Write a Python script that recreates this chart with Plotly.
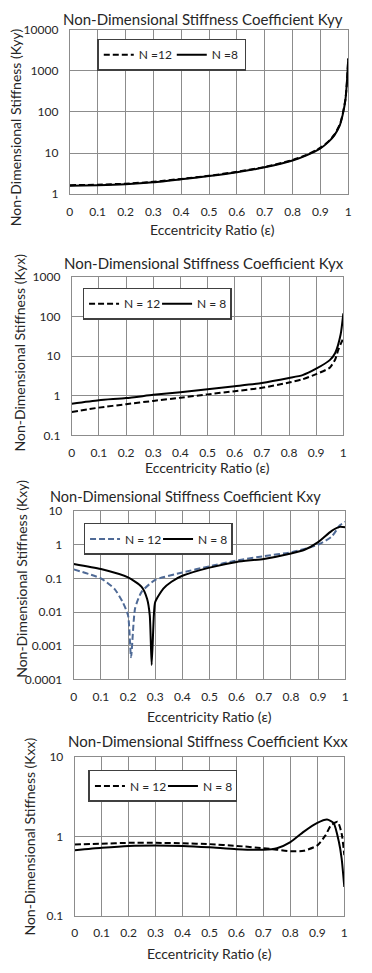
import plotly.graph_objects as go

# ---------------- data ----------------
x_ticks = [0, 0.1, 0.2, 0.3, 0.4, 0.5, 0.6, 0.7, 0.8, 0.9, 1.0]
x_ticktext = ["0", "0.1", "0.2", "0.3", "0.4", "0.5", "0.6", "0.7", "0.8", "0.9", "1"]

# Kyy
kyy_eps = [0, 0.1, 0.2, 0.3, 0.4, 0.5, 0.6, 0.7, 0.8, 0.85, 0.9, 0.93, 0.95, 0.97, 0.98, 0.99, 0.995, 1.0]
kyy_n8 = [1.6, 1.65, 1.75, 1.95, 2.3, 2.75, 3.4, 4.5, 6.6, 8.8, 13, 19, 27, 48, 85, 200, 500, 2000]
kyy_n12 = [1.65, 1.7, 1.8, 2.0, 2.35, 2.8, 3.5, 4.6, 6.8, 9.0, 13.5, 19.5, 28, 50, 88, 205, 500, 2000]
kyy_ticks = [1, 10, 100, 1000, 10000]
kyy_ticktext = ["1", "10", "100", "1000", "10000"]

# Kyx
kyx_eps_n8 = [0, 0.1, 0.2, 0.3, 0.4, 0.5, 0.6, 0.7, 0.8, 0.85, 0.9, 0.95, 0.97, 0.99, 1.0]
kyx_n8 = [0.63, 0.77, 0.87, 1.05, 1.23, 1.46, 1.74, 2.1, 2.8, 3.3, 4.8, 7.9, 12, 35, 120]
kyx_eps_n12 = [0, 0.1, 0.2, 0.3, 0.4, 0.5, 0.6, 0.7, 0.8, 0.85, 0.9, 0.95, 0.97, 0.98, 0.99, 1.0]
kyx_n12 = [0.39, 0.5, 0.61, 0.74, 0.89, 1.08, 1.3, 1.58, 2.15, 2.6, 3.5, 5.1, 8.2, 13.5, 20, 28]
kyx_ticks = [0.1, 1, 10, 100, 1000]
kyx_ticktext = ["0.1", "1", "10", "100", "1000"]

# Kxy
kxy_eps_n8 = [0, 0.1, 0.2, 0.25, 0.27, 0.28, 0.287, 0.295, 0.3, 0.33, 0.36, 0.4, 0.5, 0.6, 0.7, 0.8, 0.85, 0.9, 0.95, 0.98, 1.0]
kxy_n8 = [0.27, 0.19, 0.107, 0.056, 0.025, 0.008, 0.00027, 0.008, 0.02, 0.05, 0.08, 0.12, 0.21, 0.31, 0.38, 0.55, 0.71, 1.2, 2.6, 3.4, 3.3]
kxy_eps_n12 = [0, 0.1, 0.15, 0.18, 0.2, 0.211, 0.226, 0.25, 0.3, 0.4, 0.5, 0.6, 0.7, 0.8, 0.9, 0.95, 0.98, 1.0]
kxy_n12 = [0.186, 0.1, 0.049, 0.02, 0.008, 0.00046, 0.013, 0.04, 0.09, 0.15, 0.23, 0.34, 0.46, 0.6, 1.0, 1.75, 3.8, 4.8]
kxy_ticks = [0.0001, 0.001, 0.01, 0.1, 1, 10]
kxy_ticktext = ["0.0001", "0.001", "0.01", "0.1", "1", "10"]

# Kxx
kxx_eps_n8 = [0, 0.1, 0.2, 0.3, 0.4, 0.5, 0.6, 0.7, 0.75, 0.8, 0.85, 0.9, 0.936, 0.96, 0.98, 0.99, 1.0]
kxx_n8 = [0.67, 0.72, 0.76, 0.77, 0.76, 0.73, 0.69, 0.68, 0.71, 0.85, 1.15, 1.48, 1.63, 1.48, 0.85, 0.53, 0.23]
kxx_eps_n12 = [0, 0.1, 0.2, 0.3, 0.4, 0.5, 0.6, 0.7, 0.75, 0.8, 0.85, 0.9, 0.93, 0.95, 0.975, 0.99, 1.0]
kxx_n12 = [0.79, 0.81, 0.83, 0.83, 0.82, 0.8, 0.76, 0.71, 0.68, 0.65, 0.66, 0.77, 1.03, 1.37, 1.53, 1.09, 0.58]
kxx_ticks = [0.1, 1, 10]
kxx_ticktext = ["0.1", "1", "10"]

titles = [
    "Non-Dimensional Stiffness Coefficient Kyy",
    "Non-Dimensional Stiffness Coefficient Kyx",
    "Non-Dimensional Stiffness Coefficient Kxy",
    "Non-Dimensional Stiffness Coefficient Kxx",
]
ytitles = [
    "Non-Dimensional Stiffness (Kyy)",
    "Non-Dimensional Stiffness (Kyx)",
    "Non-Dimensional Stiffness (Kxy)",
    "Non-Dimensional Stiffness (Kxx)",
]
xtitle = "Eccentricity Ratio (ε)"
legend_names = [("N =12", "N =8"), ("N = 12", "N = 8"), ("N = 12", "N = 8"), ("N = 12", "N = 8")]

# ---------------- layout geometry ----------------
# Page has a default 8px body margin; the figure is sized to fit inside it,
# and reference-pixel positions are converted by subtracting that offset.
PAGE_W, PAGE_H, OFF = 372, 973, 8
W, H = PAGE_W - 2 * OFF, PAGE_H - 2 * OFF
FONT = "Lato"
TXT = "#262626"
GRID = "#8c8c8c"


def px(xp):
    return (xp - OFF) / W


def py(yp):
    return 1 - (yp - OFF) / H


# plot area boxes in page pixels: left, right, top, bottom
boxes = [(68, 352, 22, 189), (70, 347, 273, 434), (72, 349, 511, 682), (73, 348, 761, 922)]
title_pos = [(204, 11), (205, 259), (186, 496), (209, 745)]
title_size = [15, 15, 14.5, 15]
ytitle_pos = [(12, 121), (17, 350), (18, 580), (27, 842)]
xtitle_pos = [(214, 225), (208, 467), (210, 720), (210, 960)]
legend_pos = [(96, 31), (81, 284), (82, 523), (87, 774)]

series = [
    (kyy_eps, kyy_n12, kyy_eps, kyy_n8, kyy_ticks, kyy_ticktext, [0, 4], "black"),
    (kyx_eps_n12, kyx_n12, kyx_eps_n8, kyx_n8, kyx_ticks, kyx_ticktext, [-1, 3], "black"),
    (kxy_eps_n12, kxy_n12, kxy_eps_n8, kxy_n8, kxy_ticks, kxy_ticktext, [-4, 1], "#4f6a96"),
    (kxx_eps_n12, kxx_n12, kxx_eps_n8, kxx_n8, kxx_ticks, kxx_ticktext, [-1, 1], "black"),
]

fig = go.Figure()
annotations = []
layout = {}

for i, (e12, v12, e8, v8, yt, ytt, yr, c12) in enumerate(series):
    k = "" if i == 0 else str(i + 1)
    lg = "legend" if i == 0 else f"legend{i + 1}"
    n12, n8 = legend_names[i]
    fig.add_trace(go.Scatter(
        x=e12, y=v12, mode="lines", name=n12, xaxis="x" + k, yaxis="y" + k, legend=lg,
        line=dict(color=c12, width=2, dash="6px,3px", shape="spline", smoothing=0.6),
    ))
    fig.add_trace(go.Scatter(
        x=e8, y=v8, mode="lines", name=n8, xaxis="x" + k, yaxis="y" + k, legend=lg,
        line=dict(color="black", width=2, shape="spline", smoothing=0.6),
    ))
    l, r, t, b = boxes[i]
    layout["xaxis" + k] = dict(
        domain=[px(l), px(r)], anchor="y" + k, range=[0, 1],
        tickvals=x_ticks, ticktext=x_ticktext, showgrid=True, gridcolor=GRID, gridwidth=1,
        showline=True, linecolor=GRID, linewidth=1, mirror=True, zeroline=False,
        ticks="", tickfont=dict(family=FONT, size=12, color=TXT), ticklabelstandoff=6,
    )
    layout["yaxis" + k] = dict(
        domain=[py(b), py(t)], anchor="x" + k, type="log", range=yr,
        tickvals=yt, ticktext=ytt, showgrid=True, gridcolor=GRID, gridwidth=1,
        showline=True, linecolor=GRID, linewidth=1, mirror=True, zeroline=False,
        ticks="", tickfont=dict(family=FONT, size=12, color=TXT), ticklabelstandoff=8,
    )
    lx, ly = legend_pos[i]
    layout[lg] = dict(
        x=px(lx), y=py(ly), xanchor="left", yanchor="top", orientation="h",
        bgcolor="white", bordercolor="#404040", borderwidth=1.5,
        font=dict(family=FONT, size=12, color=TXT), itemwidth=30,
        entrywidth=28, tracegroupgap=0,
    )
    tx, ty = title_pos[i]
    annotations.append(dict(text=titles[i], x=px(tx), y=py(ty), xref="paper", yref="paper",
                            showarrow=False, xanchor="center", yanchor="middle",
                            font=dict(family=FONT, size=title_size[i], color=TXT)))
    yx, yy = ytitle_pos[i]
    annotations.append(dict(text=ytitles[i], x=px(yx), y=py(yy), xref="paper", yref="paper",
                            showarrow=False, xanchor="center", yanchor="middle", textangle=-90,
                            font=dict(family=FONT, size=14, color=TXT)))
    xx, xy = xtitle_pos[i]
    annotations.append(dict(text=xtitle, x=px(xx), y=py(xy), xref="paper", yref="paper",
                            showarrow=False, xanchor="center", yanchor="middle",
                            font=dict(family=FONT, size=14, color=TXT)))

fig.update_layout(
    width=W, height=H, margin=dict(l=0, r=0, t=0, b=0),
    paper_bgcolor="white", plot_bgcolor="white",
    annotations=annotations, showlegend=True, **layout,
)

fig.write_html("out.html")
